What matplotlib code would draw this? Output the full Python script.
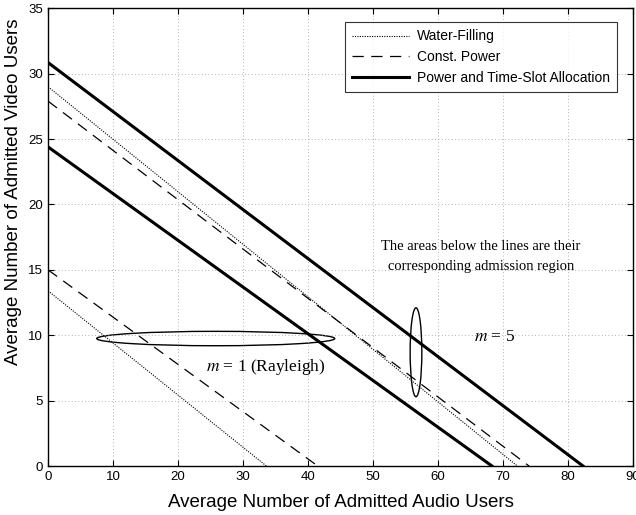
import matplotlib.pyplot as plt
from matplotlib.patches import Ellipse

# (video-axis intercept, audio-axis intercept) of each admission-region boundary
wf_m1 = [13.4, 33.6]
cp_m1 = [15.0, 41.5]
pt_m1 = [24.4, 68.3]
wf_m5 = [29.0, 72.2]
cp_m5 = [27.9, 74.0]
pt_m5 = [30.85, 82.3]

labels = ['Water-Filling', 'Const. Power', 'Power and Time-Slot Allocation']
xticks = list(range(0, 91, 10))
yticks = list(range(0, 36, 5))

plt.rcParams['font.family'] = ['Liberation Sans', 'DejaVu Sans']
plt.rcParams['mathtext.fontset'] = 'stix'

fig = plt.figure(figsize=(6.36, 5.15), dpi=100)
ax = fig.add_axes([0.0755, 0.095, 0.92, 0.889])

styles = [dict(color='black', lw=0.8, linestyle=(0, (1, 1.2))),
          dict(color='black', lw=0.9, linestyle=(0, (9, 6))),
          dict(color='black', lw=2.2, linestyle='-')]

for (wf, cp, pt) in [(wf_m5, cp_m5, pt_m5), (wf_m1, cp_m1, pt_m1)]:
    for i, (y0, x0) in enumerate([wf, cp, pt]):
        ax.plot([0, x0], [y0, 0], label=labels[i] if wf is wf_m5 else None, **styles[i])

# ellipses marking the groups of curves
ax.add_patch(Ellipse((25.8, 9.75), 36.6, 1.1, fill=False, lw=1.0, color='black'))
ax.add_patch(Ellipse((56.6, 8.7), 1.8, 6.8, fill=False, lw=1.0, color='black'))

serif = ['Liberation Serif', 'DejaVu Serif']
ax.text(24.3, 7.55, r'$m$ = 1 (Rayleigh)', family=serif, fontsize=12.5, va='center', ha='left')
ax.text(65.5, 9.85, r'$m$ = 5', family=serif, fontsize=12.5, va='center', ha='left')
ax.text(66.6, 16.0, 'The areas below the lines are their\ncorresponding admission region',
        family=serif, fontsize=10.5, ha='center', va='center', linespacing=1.7)

ax.set_xlim(0, 90)
ax.set_ylim(0, 35)
ax.set_xticks(xticks)
ax.set_yticks(yticks)
ax.tick_params(direction='in', top=True, right=True, labelsize=9.5, length=4, width=0.8)
ax.grid(True, linestyle=(0, (1, 3)), color='#999999', lw=0.6)
for s in ax.spines.values():
    s.set_linewidth(1.0)

ax.set_xlabel('Average Number of Admitted Audio Users', fontsize=13.5, va='center')
ax.set_ylabel('Average Number of Admitted Video Users', fontsize=13.5, va='center')
ax.xaxis.set_label_coords(0.5, -0.079)
ax.yaxis.set_label_coords(-0.059, 0.60)

leg = ax.legend(loc='upper right', fontsize=10, handlelength=4.1, frameon=True, fancybox=False,
                edgecolor='black', borderpad=0.5, labelspacing=0.5, handletextpad=0.6,
                borderaxespad=0, bbox_to_anchor=(0.9726, 0.969))
leg.get_frame().set_linewidth(0.8)

fig.savefig('out.png', dpi=100)
